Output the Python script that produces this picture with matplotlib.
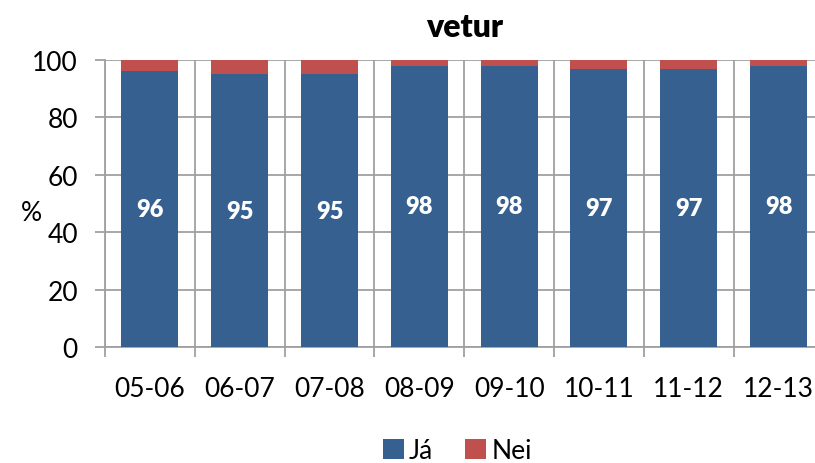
import numpy as np
import matplotlib.pyplot as plt
from matplotlib.ticker import MultipleLocator, FixedLocator

# data
seasons = ['05-06', '06-07', '07-08', '08-09', '09-10', '10-11', '11-12', '12-13']
ja = [96, 95, 95, 98, 98, 97, 97, 98]
nei = [4, 5, 5, 2, 2, 3, 3, 2]

blue = '#35608F'
red = '#C0504D'
grid = '#A0A0A0'

plt.rcParams['font.family'] = ['Lato', 'DejaVu Sans']

fig = plt.figure(figsize=(8.15, 4.64), dpi=100)
# axes right edge runs past the figure, like the original
ax = fig.add_axes([105 / 815, 1 - 348 / 464, 718.5 / 815, 287 / 464])

x = np.arange(len(seasons))
b1 = ax.bar(x, ja, width=0.635, color=blue, label='Já', zorder=3)
b2 = ax.bar(x, nei, width=0.635, bottom=ja, color=red, label='Nei', zorder=3)

for xi, v in zip(x, ja):
    ax.text(xi, v / 2, str(v), ha='center', va='center', color='white',
            fontsize=17, fontweight='heavy', zorder=4)

ax.set_xlim(-0.5, len(seasons) - 0.5)
ax.set_ylim(0, 100)
ax.yaxis.set_major_locator(MultipleLocator(20))
ax.set_xticks(x)
ax.set_xticklabels(seasons, fontsize=19)
ax.xaxis.set_minor_locator(FixedLocator(np.arange(-0.5, len(seasons), 1.0)))
ax.tick_params(axis='x', which='major', length=0, pad=21)
ax.tick_params(axis='x', which='minor', length=7.5, width=1.3, color=grid)
ax.tick_params(axis='y', length=7.5, width=1.3, color=grid, labelsize=19, pad=12)

ax.grid(axis='y', color=grid, linewidth=1.3, zorder=0)
ax.grid(axis='x', which='minor', color=grid, linewidth=1.3, zorder=0)
for s in ['top', 'right']:
    ax.spines[s].set_visible(False)
for s in ['left', 'bottom']:
    ax.spines[s].set_color(grid)
    ax.spines[s].set_linewidth(1.3)

ax.set_ylabel('%', rotation=0, fontsize=19, va='center', ha='center')
ax.yaxis.set_label_coords(-0.103, 0.47)
ax.set_title('vetur', fontsize=23, fontweight='heavy', pad=17)

fig.legend(handles=[b1, b2], loc='center', bbox_to_anchor=(0.561, 0.026),
           ncol=2, frameon=False, fontsize=19, handlelength=0.8,
           handleheight=0.8, handletextpad=0.2, columnspacing=1.2)

fig.savefig('out.png', dpi=100)
